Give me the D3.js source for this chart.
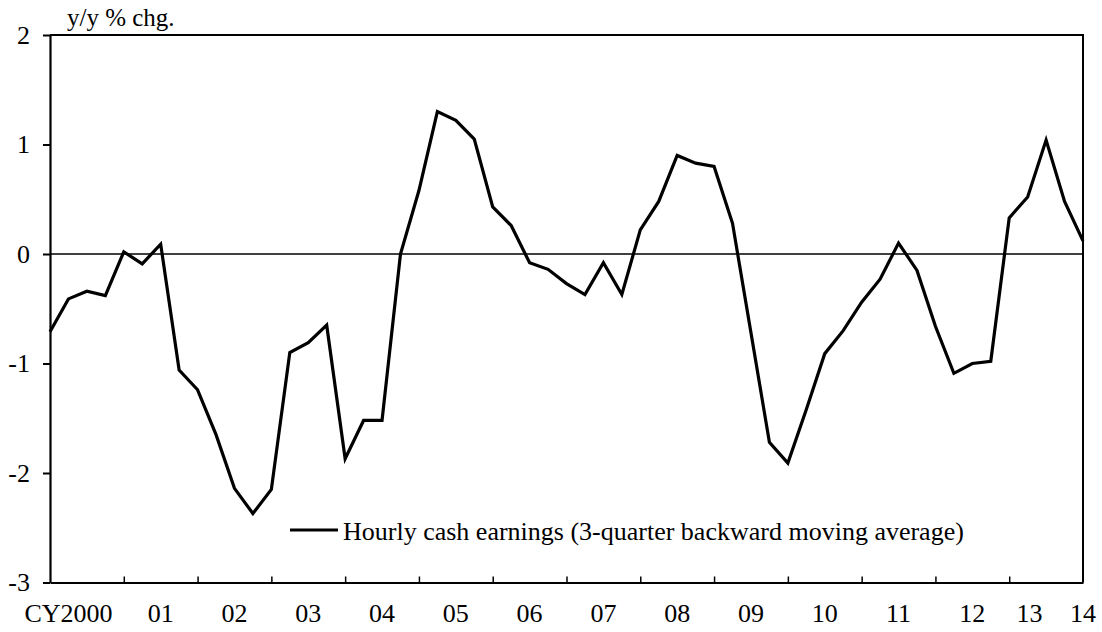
<!DOCTYPE html>
<html>
<head>
<meta charset="utf-8">
<script src="https://cdn.jsdelivr.net/npm/d3@7"></script>
<style>
  html, body { margin: 0; padding: 0; background: #fff; }
</style>
</head>
<body>
<div id="vis"></div>
<script>
/* data: quarterly, CY2000 Q1 .. CY2014 Q1 */
let earnings = [
  -0.71, -0.41, -0.34, -0.38,   0.02, -0.09,  0.09, -1.06,
  -1.24, -1.65, -2.14, -2.37,  -2.15, -0.90, -0.81, -0.65,
  -1.87, -1.52, -1.52,  0.00,   0.58,  1.30,  1.22,  1.05,
   0.43,  0.26, -0.08, -0.14,  -0.27, -0.37, -0.08, -0.37,
   0.22,  0.48,  0.90,  0.83,   0.80,  0.28, -0.72, -1.72,
  -1.91, -1.42, -0.91, -0.70,  -0.44, -0.23,  0.10, -0.15,
  -0.66, -1.09, -1.00, -0.98,   0.33,  0.52,  1.04,  0.48,
   0.12
];
let yearTicks = [4, 8, 12, 16, 20, 24, 28, 32, 36, 40, 44, 48, 52];
let yearLabels = ["CY2000", "01", "02", "03", "04", "05", "06", "07",
                  "08", "09", "10", "11", "12", "13", "14"];
let yearLabelAt = [1, 6, 10, 14, 18, 22, 26, 30, 34, 38, 42, 46, 50, 53.1, 56];
let yTicks = [2, 1, 0, -1, -2, -3];
let unitLabel = "y/y % chg.";
let seriesName = "Hourly cash earnings (3-quarter backward moving average)";

/* geometry */
let width = 1102;
let height = 632;
let boundsX = [50, 1083];
let boundsY = [35, 582.5];
let font = "'Liberation Serif', 'Times New Roman', serif";
let fontSize = 26;

/* scales */
let x = d3.scaleLinear()
  .domain([0, earnings.length - 1])
  .range(boundsX);
let y = d3.scaleLinear()
  .domain([-3, 2])
  .range([boundsY[1], boundsY[0]]);

let svg = d3.select("#vis").append("svg")
  .attr("width", width)
  .attr("height", height)
  .style("display", "block");

/* zero line */
svg.append("line")
  .attr("x1", boundsX[0]).attr("x2", boundsX[1])
  .attr("y1", y(0)).attr("y2", y(0))
  .attr("stroke", "#000")
  .attr("stroke-width", 1.3);

/* frame: top & right */
svg.append("path")
  .attr("fill", "none")
  .attr("stroke", "#000")
  .attr("stroke-width", 2)
  .attr("d", d3.line()([
    [boundsX[0], boundsY[0]], [boundsX[1], boundsY[0]], [boundsX[1], boundsY[1]]]));

/* y axis, ticks outward (plain hyphen for negatives) */
let yAxis = svg.append("g")
  .attr("transform", "translate(" + boundsX[0] + ",0)")
  .call(d3.axisLeft(y)
    .tickValues(yTicks)
    .tickSize(7)
    .tickSizeOuter(0)
    .tickPadding(13)
    .tickFormat(d => String(d)));
yAxis.select(".domain").attr("stroke-width", 2.2);
yAxis.selectAll(".tick line").attr("stroke-width", 2);
yAxis.selectAll("text")
  .attr("font-family", font)
  .attr("font-size", fontSize)
  .attr("fill", "#000");

/* x axis, ticks inward at year starts */
let xAxis = svg.append("g")
  .attr("transform", "translate(0," + boundsY[1] + ")")
  .call(d3.axisBottom(x)
    .tickValues(yearTicks)
    .tickSize(-6)
    .tickSizeOuter(0)
    .tickFormat(""));
xAxis.select(".domain").attr("stroke-width", 2.2);
xAxis.selectAll(".tick line").attr("stroke-width", 1.5);

/* year labels */
svg.append("g").selectAll("text")
  .data(yearLabels)
  .enter().append("text")
    .attr("x", (d, i) => x(yearLabelAt[i]))
    .attr("y", 622)
    .attr("text-anchor", "middle")
    .attr("font-family", font)
    .attr("font-size", fontSize)
    .text(d => d);

/* unit label */
svg.append("text")
  .attr("x", 67)
  .attr("y", 26)
  .attr("font-family", font)
  .attr("font-size", 25)
  .text(unitLabel);

/* series */
svg.append("path")
  .datum(earnings)
  .attr("fill", "none")
  .attr("stroke", "#000")
  .attr("stroke-width", 3.2)
  .attr("stroke-linejoin", "miter")
  .attr("d", d3.line()
    .x((d, i) => x(i))
    .y(d => y(d)));

/* legend */
let legend = svg.append("g")
  .attr("transform", "translate(290,530)");
legend.append("line")
  .attr("x1", 0).attr("x2", 48)
  .attr("stroke", "#000")
  .attr("stroke-width", 3.2);
legend.append("text")
  .attr("x", 53)
  .attr("y", 10)
  .attr("font-family", font)
  .attr("font-size", fontSize)
  .text(seriesName);
</script>
</body>
</html>
